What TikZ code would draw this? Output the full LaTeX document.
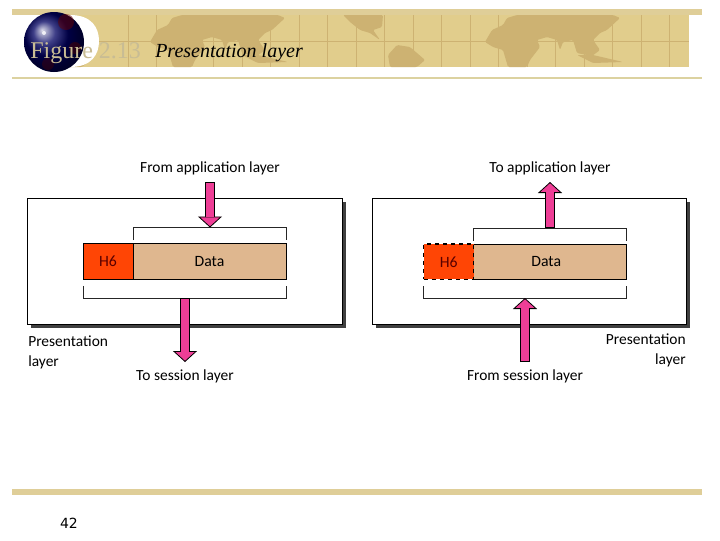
\documentclass[tikz,border=0pt]{standalone}
\usepackage{fontspec}
\setmainfont{Liberation Serif}
\setsansfont{Carlito}
\newfontfamily\pagefont{DejaVu Sans}
\usepackage{xcolor}
\usepackage{tikz}
\usetikzlibrary{arrows.meta,positioning,shadows}
\definecolor{bandtan}{RGB}{223,206,152}
\definecolor{maptan}{RGB}{225,205,140}
\definecolor{landtan}{RGB}{205,178,114}
\definecolor{ruletan}{RGB}{220,210,160}
\definecolor{titlegrey}{RGB}{200,188,148}
\definecolor{hdrred}{RGB}{255,69,5}
\definecolor{datatan}{RGB}{223,183,143}
\definecolor{arrowpink}{RGB}{238,62,150}
\tikzset{
  layerbox/.style={rectangle, draw=black, fill=white, line width=0.7pt,
                   minimum width=236pt, minimum height=95pt,
                   drop shadow={shadow xshift=2.6pt, shadow yshift=-2.6pt,
                                fill=black!75, opacity=1}},
  hdr/.style={rectangle, draw=black, fill=hdrred, line width=0.6pt,
              minimum width=37.5pt, minimum height=26.6pt, inner sep=0pt,
              outer sep=0pt, text=black!65!red, font=\sffamily\fontsize{11.8}{13}\selectfont},
  payload/.style={rectangle, draw=black, fill=datatan, line width=0.6pt,
                  minimum width=114.75pt, minimum height=26.6pt, inner sep=0pt,
                  outer sep=0pt, font=\sffamily\fontsize{11.8}{13}\selectfont},
  bracket/.style={draw=black!85, line width=0.6pt},
  label/.style={align=left, inner sep=0pt, font=\sffamily\fontsize{11.6}{13.5}\selectfont},
  pinkarrow/.style={draw=black, line width=7.5pt,
                    -{Triangle[length=8.25pt, width=18pt, fill=arrowpink, line width=0.6pt]},
                    postaction={draw=arrowpink, line width=6.2pt, -,
                                shorten >=7.6pt, shorten <=0.6pt}},
  landmass/.style={fill=landtan, rounded corners=1pt},
  worldmap/.pic={
    \fill[landmass] (485,42) -- (492,30) -- (503,25) -- (507,18) -- (517,15) -- (613,15)
      -- (620,18) -- (607,30) -- (600,33) -- (593,40) -- (600,50) -- (592,56) -- (577,53)
      -- (573,40) -- (563,42) -- (560,50) -- (557,40) -- (547,37) -- (537,40) -- (540,47)
      -- (530,60) -- (527,67) -- (508,67) -- (503,50) -- (493,47) -- cycle;
    \fill[landmass] (577,55) -- (593,55) -- (623,62) -- (593,63) -- cycle;
    \fill[landmass] (343,15) -- (383,15) -- (382,27) -- (373,30) -- (380,40) -- (370,33)
      -- (360,30) -- (350,22) -- cycle;
    \fill[landmass] (388,55) -- (397,45) -- (410,47) -- (425,60) -- (417,67) -- (390,67) -- cycle;
  }
}

\begin{document}
\begin{tikzpicture}[x=0.75pt, y=-0.75pt]
\useasboundingbox (0,0) rectangle (720,540);

% banner
\fill[maptan] (12,15) rectangle (689,67);
\begin{scope}
  \clip (12,15) rectangle (689,67);
  \pic at (0,0) {worldmap};
  \pic at (-335,0) {worldmap};
  \foreach \gx in {128,156.5,185,213.5,242,270.5,299,327.5,356,384.5,413,441.5,470,498.5,527,555.5,584,612.5,641,669.5}
    \draw[landtan, line width=0.4pt] (\gx,15) -- (\gx,67);
  \draw[landtan, line width=0.4pt] (12,41) -- (689,41);
\end{scope}
\fill[white] (12,15) -- (70,15) .. controls (92,15) and (99,28) .. (99,41)
  .. controls (99,54) and (92,67) .. (70,67) -- (12,67) -- cycle;
\fill[bandtan] (12,9) rectangle (702,15);
\fill[ruletan] (12,77) rectangle (702,78.5);
\fill[bandtan] (12,489) rectangle (702,495);

% globe
\shade[ball color=blue!38!black] (54,42) circle (30);
\fill[red!40!black, opacity=0.5] (66,22) circle (8);
\fill[red!30!black, opacity=0.5] (75,48) circle (6);
\fill[red!30!black, opacity=0.4] (48,64) circle (6);
\fill[white, opacity=0.8] (44,33) circle (2);

\node[anchor=west, inner sep=0pt, text=titlegrey, font=\fontsize{18}{20}\selectfont] (figno) at (30,53) {Figure 2.13};
\node[anchor=west, inner sep=0pt, font=\itshape\fontsize{15}{18}\selectfont] (title) at (155,53) {Presentation layer};
\node[inner sep=0pt, font=\pagefont\fontsize{10.5}{12}\selectfont] (pageno) at (69,523) {42};

% sender side
\node[layerbox] (boxA) at (184.75,261.5) {};
\node[payload] (dataA) at (209.5,261.25) {Data};
\node[hdr, left=0pt of dataA] (hdrA) {H6};
\draw[bracket] ([yshift=2.6pt]dataA.north west) -- ([yshift=12pt]dataA.north west)
  -- ([yshift=12pt]dataA.north east) -- ([yshift=2.6pt]dataA.north east);
\draw[bracket] ([yshift=-5.25pt]hdrA.south west) -- ([yshift=-14.25pt]hdrA.south west)
  -- ([yshift=-14.25pt]dataA.south east) -- ([yshift=-5.25pt]dataA.south east);
\node[label] (fromapp) at (210,168) {From application layer};
\node[label] (tosess) at (185,376) {To session layer};
\node[label, anchor=north west] (presA) at (28,336) {Presentation\\[1pt]layer};
\coordinate (inA) at (210,182);
\coordinate (topA) at (210,227.5);
\coordinate (botA) at (185,298);
\coordinate (outA) at (185,362);
\draw[pinkarrow] (inA) -- (topA);
\draw[pinkarrow] (botA) -- (outA);

% receiver side
\node[layerbox] (boxB) at (529.5,261.5) {};
\node[payload] (dataB) at (550.25,261.75) {Data\rule{6pt}{0pt}};
\node[hdr, dash pattern=on 3.5pt off 2.5pt, line width=0.9pt, left=0pt of dataB] (hdrB) {H6};
\draw[bracket] ([yshift=2.6pt]dataB.north west) -- ([yshift=12pt]dataB.north west)
  -- ([yshift=12pt]dataB.north east) -- ([yshift=2.6pt]dataB.north east);
\draw[bracket] ([yshift=-5.25pt]hdrB.south west) -- ([yshift=-14.25pt]hdrB.south west)
  -- ([yshift=-14.25pt]dataB.south east) -- ([yshift=-5.25pt]dataB.south east);
\node[label] (toapp) at (550,168) {To application layer};
\node[label] (fromsess) at (525,376) {From session layer};
\node[label, align=right, anchor=north east] (presB) at (686,334) {Presentation\\[1pt]layer};
\coordinate (topB) at (550,227.5);
\coordinate (outB) at (550,182);
\coordinate (inB) at (525,362);
\coordinate (botB) at (525,298);
\draw[pinkarrow] (topB) -- (outB);
\draw[pinkarrow] (inB) -- (botB);
\end{tikzpicture}
\end{document}
